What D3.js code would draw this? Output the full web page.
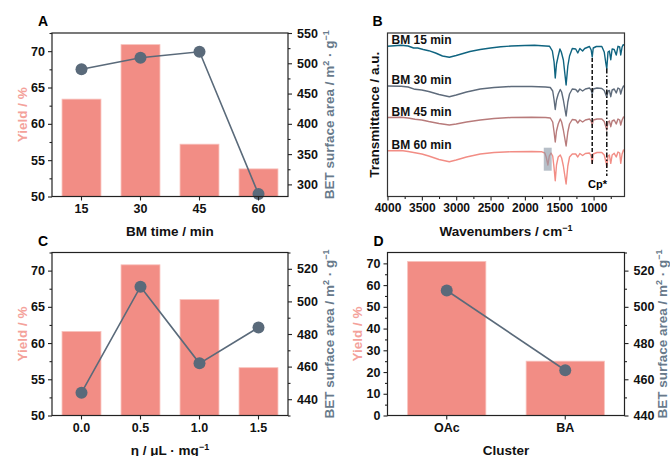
<!DOCTYPE html>
<html>
<head>
<meta charset="utf-8">
<script src="https://cdn.jsdelivr.net/npm/d3@7"></script>
<style>
	body { margin: 0; background: #fff; }
	svg { font-family: 'Liberation Sans', Arial, sans-serif; font-weight: bold; }
</style>
</head>
<body>
<svg id="fig" width="670" height="456"></svg>
<script>
// A: ball-milling time
const bmTimes = [ '15', '30', '45', '60' ];
const bmYield = [ 63.4, 70.9, 57.2, 53.8 ];
const bmBet = [ 490, 509, 519, 284 ];
// C: eta
const etaLabels = [ '0.0', '0.5', '1.0', '1.5' ];
const etaYield = [ 61.6, 70.8, 66.0, 56.6 ];
const etaBet = [ 444, 509, 462, 484 ];
// D: cluster
const clusters = [ 'OAc', 'BA' ];
const clusterYield = [ 70.9, 25.0 ];
const clusterBet = [ 509, 465 ];

// tick values
const yieldTicksAC = [ 50, 55, 60, 65, 70 ];
const yieldTicksD = [ 0, 10, 20, 30, 40, 50, 60, 70 ];
const betTicksA = [ 300, 350, 400, 450, 500, 550 ];
const betTicksCD = [ 440, 460, 480, 500, 520 ];
const wnTicks = [ 4000, 3500, 3000, 2500, 2000, 1500, 1000 ];

// B: FTIR spectra, [wavenumber, transmittance a.u.]
const specLabels = [ 'BM 15 min', 'BM 30 min', 'BM 45 min', 'BM 60 min' ];
const spec15 = [
	[4000,150.2],[3900,150.7],[3800,151.2],[3700,150.5],[3620,148.5],[3560,148.5],[3480,147],[3400,145.8],
	[3300,143.5],[3200,140.5],[3100,139.2],[3000,141],[2900,143],[2800,145],[2650,147],[2500,148.5],
	[2350,149.7],[2200,150.5],[2000,151],[1860,151.2],[1700,150.5],[1640,150.2],[1600,145.5],[1575,134.5],
	[1558,118.5],[1540,132.5],[1515,140.5],[1490,147.5],[1470,144.5],[1440,136.5],[1400,111.5],[1375,130.5],
	[1350,140.5],[1310,148],[1260,147.5],[1230,143.5],[1200,148],[1160,145.5],[1130,148],[1060,150],
	[1035,146.5],[1020,139.5],[1005,148.5],[960,150],[880,150],[845,144.5],[820,132.5],[808,127.8],
	[790,144.5],[770,145.5],[750,136.8],[730,147.5],[700,147],[670,141.5],[645,150.2],[620,149.5],
	[605,141.5],[585,149.5],[570,151.8],[550,151]
];
const spec30 = [
	[4000,110.5],[3800,110.2],[3700,109.5],[3600,107.2],[3500,106.5],[3400,105],[3250,102],[3100,99.8],
	[3000,101.5],[2850,104.5],[2650,107.5],[2450,109],[2200,110],[1900,110],[1700,109.5],[1630,109],
	[1595,105.5],[1575,96.5],[1558,87],[1540,96.5],[1515,102.5],[1485,107],[1465,104.5],[1440,96.5],
	[1400,80.5],[1375,94.5],[1350,102.5],[1310,107.5],[1260,107],[1230,104.5],[1200,107.5],[1160,105.5],
	[1120,107.5],[1060,108.5],[1035,106.5],[1020,102.5],[1005,107.5],[950,108.5],[880,108],[845,106],
	[820,101.5],[808,99.5],[790,105.5],[770,106],[750,99.8],[730,106.5],[700,107.5],[670,103.5],
	[645,108.5],[620,107.5],[605,102.5],[585,107.5],[565,110.5],[550,109.5]
];
const spec45 = [
	[4000,79],[3800,79.2],[3700,78.5],[3600,77.2],[3500,76.5],[3400,75],[3250,73],[3100,71.5],
	[3000,72.5],[2850,74.5],[2650,76.5],[2450,78],[2200,79],[1900,79.2],[1700,79],[1630,78.5],
	[1595,74.5],[1575,64.5],[1558,54.5],[1540,65.5],[1515,72.5],[1485,77.5],[1465,74.5],[1440,66.5],
	[1400,50.5],[1375,64.5],[1350,72.5],[1310,77],[1260,76.5],[1230,73.5],[1200,76.5],[1160,74.5],
	[1120,76.5],[1060,77.5],[1035,75.5],[1020,71.5],[1005,76.5],[950,77.5],[880,77.5],[845,75],
	[820,69.5],[808,66.5],[790,74.5],[770,75.5],[750,69.8],[730,75.5],[700,76.5],[670,72.5],
	[645,77.5],[620,76.5],[605,71.5],[585,76.5],[565,79.5],[550,78.5]
];
const spec60 = [
	[4000,45.8],[3800,46],[3700,45],[3600,43.8],[3500,42.5],[3400,40.5],[3250,37],[3100,34.8],
	[3000,36.5],[2850,39.5],[2650,42.5],[2450,44],[2200,44.8],[1900,45],[1760,44.8],[1710,43.5],
	[1690,39.5],[1665,31.5],[1645,40.5],[1620,43.5],[1595,40.5],[1575,28.5],[1558,15.8],[1540,31.5],
	[1515,39.5],[1485,41.5],[1465,38.5],[1440,30.5],[1400,12.5],[1375,30.5],[1350,39.5],[1310,42.5],
	[1260,42.5],[1230,39.5],[1200,43],[1160,41],[1120,43],[1060,43.5],[1035,40.5],[1020,33.2],
	[1005,42.5],[950,44],[880,44],[845,41.5],[820,34.5],[808,29.8],[790,40.5],[770,41.5],[750,33.2],
	[730,41.5],[700,43.2],[670,39.5],[645,44.5],[620,43.5],[605,33.2],[585,42.5],[565,46.5],[550,45.5]
];
// Cp* marker lines: wavenumber, top and bottom (a.u.)
const cpLines = [ [ 1020, 138.5, 30.5 ], [ 808, 128, 20.5 ] ];
// highlighted band: wavenumber range, a.u. range
const bandBox = [ 1725, 1610, 48.8, 25.8 ];

const barColor = '#f28d85';
const betColor = '#5a6a7a';
const yieldTitleColor = '#f4a29b';
const betTitleColor = '#687a8b';
const specColors = [ '#0f6480', '#5e6b7b', '#b87b7b', '#f28d85' ];

const svg = d3.select('#fig');

function addSup(textSel, main, sup, after) {
	textSel.append('tspan').text(main);
	textSel.append('tspan').attr('dy', -5).attr('font-size', '9px').text(sup);
	if (after) {
		textSel.append('tspan').attr('dy', 5).text(after);
	}
}

function styleAxis(g, size) {
	g.select('.domain').remove();
	g.selectAll('line').attr('stroke', '#222').attr('stroke-width', 1.1);
	g.selectAll('text').attr('fill', '#111').style('font-size', size).style('font-weight', 'bold')
		.style('font-family', "'Liberation Sans', Arial, sans-serif");
}

function minorTicks(major) {
	const out = [];
	for (let i = 0; i < major.length - 1; i++) out.push((major[i] + major[i + 1]) / 2);
	return out;
}

// twin-axis bar + line panel
function barPanel(p) {
	const g = svg.append('g');
	const x = d3.scaleBand().domain(p.cats).range([ p.x0, p.x1 ]).paddingInner(0.34).paddingOuter(0.17);
	const y = d3.scaleLinear().domain(p.yDomain).range([ p.y1, p.y0 ]);
	const yr = d3.scaleLinear().domain(p.betDomain).range([ p.y1, p.y0 ]);

	g.selectAll('.bar')
		.data(p.yieldVals)
		.enter()
		.append('rect')
		.attr('x', (d, i) => x(p.cats[i]))
		.attr('width', x.bandwidth())
		.attr('y', (d) => y(d))
		.attr('height', (d) => y(p.yDomain[0]) - y(d))
		.attr('fill', barColor)
		.attr('stroke', '#f8c2bd')
		.attr('stroke-width', 0.8);

	const cx = (i) => x(p.cats[i]) + x.bandwidth() / 2;
	g.append('path')
		.datum(p.betVals)
		.attr('fill', 'none')
		.attr('stroke', betColor)
		.attr('stroke-width', 1.6)
		.attr('d', d3.line().x((d, i) => cx(i)).y((d) => yr(d)));
	g.selectAll('.pt')
		.data(p.betVals)
		.enter()
		.append('circle')
		.attr('cx', (d, i) => cx(i))
		.attr('cy', (d) => yr(d))
		.attr('r', 6)
		.attr('fill', betColor);

	// axes
	styleAxis(g.append('g').attr('transform', `translate(${p.x0},0)`)
		.call(d3.axisLeft(y).tickValues(p.yTicks).tickSize(4).tickPadding(3)), '12.5px');
	styleAxis(g.append('g').attr('transform', `translate(${p.x0},0)`)
		.call(d3.axisLeft(y).tickValues(minorTicks(p.yTicks).concat(p.yExtraMinor || [])).tickSize(2.5).tickFormat('')), '0');
	styleAxis(g.append('g').attr('transform', `translate(${p.x1},0)`)
		.call(d3.axisRight(yr).tickValues(p.betTicks).tickSize(4).tickPadding(5)), '12.5px');
	styleAxis(g.append('g').attr('transform', `translate(${p.x1},0)`)
		.call(d3.axisRight(yr).tickValues(minorTicks(p.betTicks).concat(p.betExtraMinor || [])).tickSize(2.5).tickFormat('')), '0');
	styleAxis(g.append('g').attr('transform', `translate(0,${p.y1})`)
		.call(d3.axisBottom(x).tickSize(4).tickPadding(4)), '12.5px');

	g.append('rect')
		.attr('x', p.x0).attr('y', p.y0)
		.attr('width', p.x1 - p.x0).attr('height', p.y1 - p.y0)
		.attr('fill', 'none').attr('stroke', '#222').attr('stroke-width', 1.2);

	// titles
	const cy = (p.y0 + p.y1) / 2;
	g.append('text')
		.attr('transform', `translate(${p.x0 - 25.5},${cy}) rotate(-90)`)
		.attr('text-anchor', 'middle').attr('fill', yieldTitleColor).style('font-size', '13.5px')
		.text('Yield / %');
	const bt = g.append('text')
		.attr('transform', `translate(${p.x1 + (p.betTitleGap || 45.5)},${cy}) rotate(-90)`)
		.attr('text-anchor', 'middle').attr('fill', betTitleColor).style('font-size', '13.5px');
	addSup(bt, 'BET surface area / m', '2', ' · g');
	bt.append('tspan').attr('dy', -5).attr('font-size', '9px').text('\u22121');

	const xt = g.append('text')
		.attr('x', (p.x0 + p.x1) / 2).attr('y', p.y1 + 39)
		.attr('text-anchor', 'middle').attr('fill', '#111').style('font-size', '13.5px');
	if (p.xSup) addSup(xt, p.xTitle, p.xSup);
	else xt.text(p.xTitle);

	g.append('text').attr('x', p.x0 - 14).attr('y', p.y0 - 7).style('font-size', '14px').text(p.letter);
}

barPanel({
	letter: 'A', x0: 52, x1: 288, y0: 33, y1: 196.5,
	cats: bmTimes, yieldVals: bmYield, betVals: bmBet,
	yDomain: [ 50, 72.5 ], yTicks: yieldTicksAC, yExtraMinor: [ 72.5 ],
	betDomain: [ 280, 550 ], betTicks: betTicksA,
	xTitle: 'BM time / min',
});
barPanel({
	letter: 'C', x0: 52, x1: 288, y0: 252.5, y1: 415.5,
	cats: etaLabels, yieldVals: etaYield, betVals: etaBet,
	yDomain: [ 50, 72.5 ], yTicks: yieldTicksAC, yExtraMinor: [ 72.5 ],
	betDomain: [ 430, 530 ], betTicks: betTicksCD, betExtraMinor: [ 430, 530 ],
	xTitle: '\u03b7 / \u03bcL \u00b7 mg', xSup: '\u22121',
});
barPanel({
	letter: 'D', x0: 387.5, x1: 624.5, y0: 252.5, y1: 415.5,
	cats: clusters, yieldVals: clusterYield, betVals: clusterBet,
	yDomain: [ 0, 75 ], yTicks: yieldTicksD,
	betDomain: [ 440, 530 ], betTicks: betTicksCD, betExtraMinor: [ 530 ],
	xTitle: 'Cluster', betTitleGap: 42,
});

// B: FTIR
(function() {
	const x0 = 387.5, x1 = 624.5, y0 = 33, y1 = 196.5;
	const g = svg.append('g');
	const x = d3.scaleLinear().domain([ 4000, 550 ]).range([ x0, x1 ]);
	const y = d3.scaleLinear().domain([ 0, 163.5 ]).range([ y1, y0 ]);
	const line = d3.line().x((d) => x(d[0])).y((d) => y(d[1]));
	const specs = [ spec15, spec30, spec45, spec60 ];

	specs.forEach((s, i) => {
		g.append('path')
			.datum(s)
			.attr('fill', 'none')
			.attr('stroke', specColors[i])
			.attr('stroke-width', 1.4)
			.attr('stroke-linejoin', 'round')
			.attr('d', line);
		g.append('text')
			.attr('x', x0 + 4)
			.attr('y', y(s[0][1]) - 2)
			.style('font-size', '12px')
			.attr('fill', '#111')
			.text(specLabels[i]);
	});

	g.append('rect')
		.attr('x', x(bandBox[0])).attr('width', x(bandBox[1]) - x(bandBox[0]))
		.attr('y', y(bandBox[2])).attr('height', y(bandBox[3]) - y(bandBox[2]))
		.attr('fill', '#8795a3').attr('opacity', 0.6);

	const dashes = [ '4,2', '5,2,1.5,2' ];
	cpLines.forEach((c, i) => {
		g.append('line')
			.attr('x1', x(c[0])).attr('x2', x(c[0]))
			.attr('y1', y(c[1])).attr('y2', y(c[2]))
			.attr('stroke', '#111').attr('stroke-width', 1.5)
			.attr('stroke-dasharray', dashes[i]);
	});
	g.append('text')
		.attr('x', (x(cpLines[0][0]) + x(cpLines[1][0])) / 2 - 2)
		.attr('y', y(cpLines[1][2]) + 11.5)
		.attr('text-anchor', 'middle')
		.style('font-size', '11px')
		.text('Cp*');

	styleAxis(g.append('g').attr('transform', `translate(0,${y1})`)
		.call(d3.axisBottom(x).tickValues(wnTicks).tickSize(4).tickPadding(3).tickFormat(d3.format('d'))), '12px');
	styleAxis(g.append('g').attr('transform', `translate(0,${y1})`)
		.call(d3.axisBottom(x).tickValues(minorTicks(wnTicks).concat([ 750 ])).tickSize(2.5).tickFormat('')), '0');

	g.append('rect')
		.attr('x', x0).attr('y', y0)
		.attr('width', x1 - x0).attr('height', y1 - y0)
		.attr('fill', 'none').attr('stroke', '#333').attr('stroke-width', 1.2);

	g.append('text')
		.attr('transform', `translate(${x0 - 9},${(y0 + y1) / 2}) rotate(-90)`)
		.attr('text-anchor', 'middle').style('font-size', '13.5px').attr('fill', '#111')
		.text('Transmittance / a.u.');
	const xt = g.append('text')
		.attr('x', (x0 + x1) / 2).attr('y', y1 + 39)
		.attr('text-anchor', 'middle').style('font-size', '13.5px').attr('fill', '#111');
	addSup(xt, 'Wavenumbers / cm', '\u22121');
	g.append('text').attr('x', x0 - 15).attr('y', y0 - 7).style('font-size', '14px').text('B');
})();
</script>
</body>
</html>
